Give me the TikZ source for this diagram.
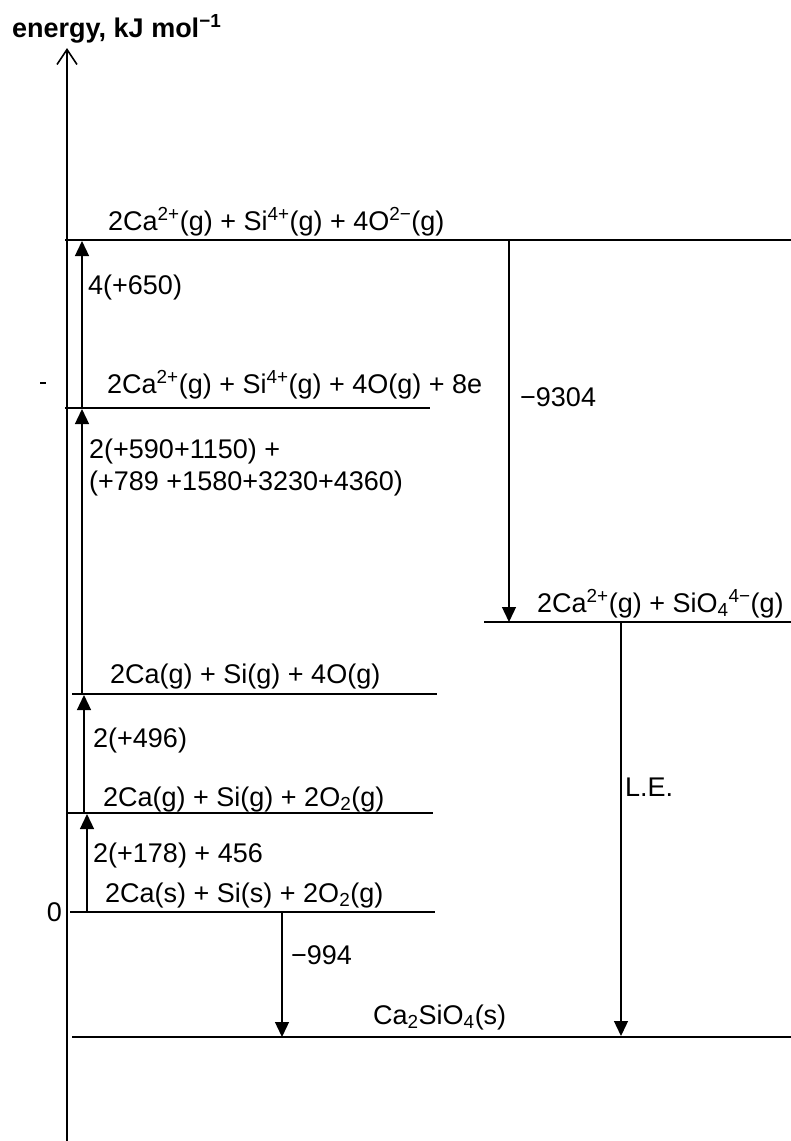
\documentclass[tikz,border=0pt]{standalone}
\usepackage{fontspec}
\setmainfont{Liberation Sans}
\usetikzlibrary{arrows.meta}
\begin{document}
\begin{tikzpicture}[x=1pt,y=-1pt,
  lvl/.style={line width=1.8pt},
  axisline/.style={line width=2.2pt,-{Straight Barb[width=20pt,length=15pt,line width=1.6pt]}},
  arr/.style={line width=1.3pt,-{Triangle[width=14pt,length=15pt]}},
  lbl/.style={anchor=base west,inner sep=0pt,font=\fontsize{27}{32}\selectfont},
  ttl/.style={anchor=base west,inner sep=0pt,font=\fontsize{27}{32}\selectfont\bfseries},
]
\useasboundingbox (0,0) rectangle (791,1141);

% title and axis
\node[ttl] (title) at (12,37) {energy, kJ mol\textsuperscript{−1}};
\coordinate (axb) at (67,1141);
\coordinate (axt) at (67,48);
\draw[axisline] (axb) -- (axt);
\node[lbl,anchor=base east] (zero) at (62,921) {0};
\coordinate (tk1) at (40,383);
\coordinate (tk2) at (46,383);
\draw[line width=1.2pt] (tk1) -- (tk2);

% levels
\coordinate (l1a) at (65,240);  \coordinate (l1b) at (791,240);
\coordinate (l2a) at (65,408);  \coordinate (l2b) at (430,408);
\coordinate (l3a) at (72,694);  \coordinate (l3b) at (437,694);
\coordinate (l4a) at (68,813);  \coordinate (l4b) at (433,813);
\coordinate (l5a) at (70,912);  \coordinate (l5b) at (435,912);
\coordinate (l6a) at (72,1037); \coordinate (l6b) at (791,1037);
\coordinate (l7a) at (484,622); \coordinate (l7b) at (791,622);
\foreach \l in {1,...,7} {\draw[lvl] (l\l a) -- (l\l b);}

\node[lbl] (t1) at (108,230) {2Ca\textsuperscript{2+}(g) + Si\textsuperscript{4+}(g) + 4O\textsuperscript{2−}(g)};
\node[lbl] (t2) at (107,393) {2Ca\textsuperscript{2+}(g) + Si\textsuperscript{4+}(g) + 4O(g) + 8e};
\node[lbl] (t3) at (110,683) {2Ca(g) + Si(g) + 4O(g)};
\node[lbl] (t4) at (103,806) {2Ca(g) + Si(g) + 2O\textsubscript{2}(g)};
\node[lbl] (t5) at (105,902) {2Ca(s) + Si(s) + 2O\textsubscript{2}(g)};
\node[lbl] (t6) at (373,1024) {Ca\textsubscript{2}SiO\textsubscript{4}(s)};
\node[lbl] (t7) at (537,612) {2Ca\textsuperscript{2+}(g) + SiO\textsubscript{4}\textsuperscript{4−}(g)};

% arrows
\coordinate (a1s) at (82,408);  \coordinate (a1e) at (82,241);
\coordinate (a2s) at (82,694);  \coordinate (a2e) at (82,409);
\coordinate (a3s) at (84,813);  \coordinate (a3e) at (84,695);
\coordinate (a4s) at (87,912);  \coordinate (a4e) at (87,814);
\coordinate (a5s) at (509,240); \coordinate (a5e) at (509,622);
\coordinate (a6s) at (621,622); \coordinate (a6e) at (621,1036);
\coordinate (a7s) at (282,912); \coordinate (a7e) at (282,1037);
\foreach \a in {1,...,7} {\draw[arr] (a\a s) -- (a\a e);}

\node[lbl] (e1) at (88,294) {4(+650)};
\node[lbl] (e2a) at (89,458) {2(+590+1150) +};
\node[lbl] (e2b) at (89,490) {(+789 +1580+3230+4360)};
\node[lbl] (e3) at (93,747) {2(+496)};
\node[lbl] (e4) at (93,862) {2(+178) + 456};
\node[lbl] (e5) at (520,406) {−9304};
\node[lbl] (e6) at (625,796) {L.E.};
\node[lbl] (e7) at (291,964) {−994};
\end{tikzpicture}
\end{document}
